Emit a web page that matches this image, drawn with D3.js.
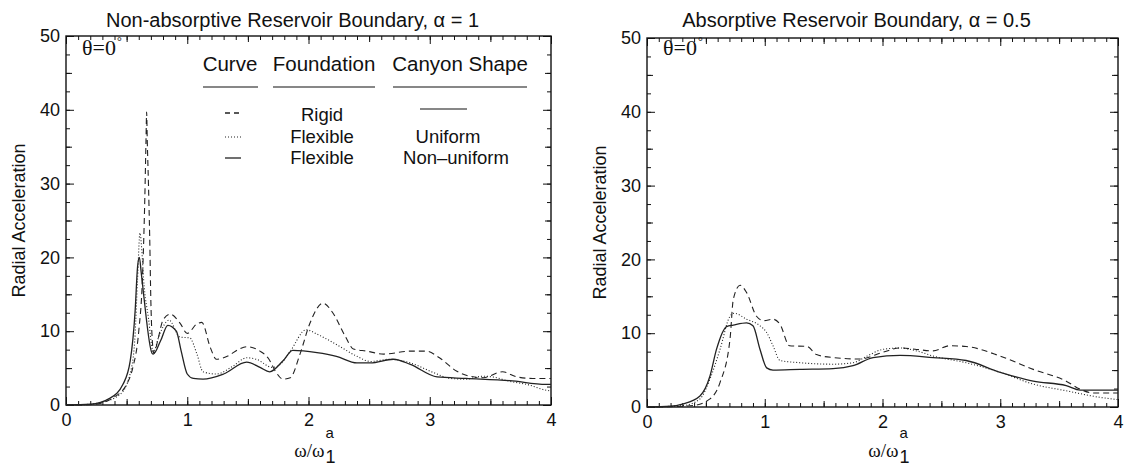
<!DOCTYPE html>
<html>
<head>
<meta charset="utf-8">
<script src="https://cdn.jsdelivr.net/npm/d3@7"></script>
<style>
  body { margin: 0; background: #fff; }
  text { font-family: "Liberation Sans", Arial, sans-serif; fill: #111; }
  .serif { font-family: "Liberation Serif", "Times New Roman", serif; }
</style>
</head>
<body>
<div id="chart"></div>
<script>
// axis ticks
const xTicks = [0, 1, 2, 3, 4];
const yTicks = [0, 10, 20, 30, 40, 50];

// Non-absorptive reservoir, alpha = 1   ([omega ratio, radial acceleration])
const nonAbsRigid = [[0,0],[0.2,0.05],[0.3,0.3],[0.39,1],[0.5,2.8],[0.55,5],[0.6,10],[0.63,17],[0.65,28],[0.66,36],[0.665,39.7],
  [0.67,36],[0.68,30],[0.69,23],[0.7,14],[0.715,8],[0.725,7],[0.76,9],[0.8,11.5],[0.86,12.3],[0.94,11.1],[1.0,9.7],[1.08,11],
  [1.12,11.2],[1.19,7.8],[1.24,6.2],[1.33,6.6],[1.43,7.6],[1.49,7.9],[1.6,7.3],[1.67,6.3],[1.73,4.5],[1.79,3.5],[1.85,3.7],
  [1.93,6.9],[2.01,11],[2.12,13.8],[2.2,12.5],[2.3,9.4],[2.37,7.6],[2.48,7.3],[2.62,6.9],[2.84,7.3],[2.97,7.3],[3.08,6.4],
  [3.22,4.6],[3.33,3.9],[3.44,3.7],[3.6,4.5],[3.72,3.8],[3.85,3.6],[4,3.6]];
const nonAbsFlexUniform = [[0,0],[0.2,0.1],[0.3,0.4],[0.45,1.5],[0.54,5],[0.57,9.6],[0.59,17],[0.61,23.3],[0.625,21],[0.64,17],
  [0.68,11.8],[0.72,7.2],[0.77,9.5],[0.85,11.5],[0.94,9.2],[1.02,9.1],[1.08,6.9],[1.13,4.5],[1.24,4.2],[1.38,5.3],[1.49,6.4],
  [1.57,6.2],[1.7,5.1],[1.75,5.3],[1.85,7.3],[1.98,10.2],[2.07,9.6],[2.23,8.2],[2.4,6.6],[2.51,5.9],[2.67,6.2],[2.84,5.7],
  [3.03,4.4],[3.17,3.6],[3.3,3.5],[3.44,3.9],[3.52,3.8],[3.66,3.2],[3.8,2.8],[3.96,2.0],[4,1.9]];
const nonAbsFlexNonUniform = [[0,0],[0.2,0.1],[0.36,0.9],[0.47,2.8],[0.53,6],[0.57,12.7],[0.59,18.7],[0.605,20],[0.62,18],
  [0.64,15],[0.71,7],[0.72,6.9],[0.78,8.7],[0.84,10.8],[0.91,10],[0.95,7.3],[1.0,4.2],[1.05,3.6],[1.13,3.5],[1.3,4.2],
  [1.49,5.8],[1.6,5.1],[1.68,4.5],[1.79,6.0],[1.87,7.4],[2.07,7.1],[2.23,6.6],[2.4,5.7],[2.51,5.7],[2.7,6.2],[2.84,5.5],
  [3.06,3.8],[3.3,3.6],[3.66,3.3],[3.96,2.8],[4,2.8]];

// Absorptive reservoir, alpha = 0.5
const absRigid = [[0,0],[0.2,0.05],[0.39,0.2],[0.535,1.1],[0.62,3.3],[0.705,9.2],[0.733,14.6],[0.79,16.5],[0.846,15.5],
  [0.93,12.3],[0.99,11.7],[1.07,11.9],[1.13,11.2],[1.21,8.3],[1.36,8.2],[1.44,7.1],[1.58,6.7],[1.81,6.5],[2.0,7.4],[2.15,8.0],
  [2.29,7.8],[2.43,7.6],[2.57,8.3],[2.71,8.2],[3.0,6.9],[3.28,5.1],[3.56,3.5],[3.68,2.4],[3.79,1.9],[4,1.9]];
const absFlexUniform = [[0,0],[0.31,0.2],[0.45,1.1],[0.535,3.8],[0.62,7.8],[0.705,12.3],[0.74,12.7],[0.846,11.9],[0.96,11.0],
  [1.016,10.1],[1.07,8.3],[1.13,6.3],[1.3,6.0],[1.58,5.8],[1.75,6.0],[1.87,6.9],[2.0,7.8],[2.15,8.0],[2.29,7.6],[2.43,6.9],
  [2.71,6.0],[3.0,4.7],[3.28,3.1],[3.56,2.2],[3.85,1.3],[4,1.0]];
const absFlexNonUniform = [[0,0],[0.2,0.1],[0.3,0.4],[0.45,1.5],[0.535,4.2],[0.59,7.8],[0.676,10.9],[0.733,11.1],[0.846,11.4],
  [0.9,11.0],[0.96,7.8],[1.016,5.3],[1.07,5.0],[1.3,5.1],[1.58,5.2],[1.75,5.6],[1.92,6.7],[2.15,7.0],[2.43,6.7],[2.71,6.3],
  [3.0,4.7],[3.28,3.5],[3.56,2.9],[3.68,2.3],[4,2.3]];

const dashStyle = { rigid: "6,4", uniform: "1,2", nonuniform: null };

const width = 1136, height = 467;
const svg = d3.select("#chart").append("svg")
    .attr("width", width)
    .attr("height", height);

const panels = [
  { title: "Non-absorptive Reservoir Boundary, \u03b1 = 1", left: 66, right: 551, top: 36, bottom: 405,
    series: [[nonAbsRigid, "rigid"], [nonAbsFlexUniform, "uniform"], [nonAbsFlexNonUniform, "nonuniform"]] },
  { title: "Absorptive Reservoir Boundary, \u03b1 = 0.5", left: 647, right: 1118, top: 38, bottom: 407,
    series: [[absRigid, "rigid"], [absFlexUniform, "uniform"], [absFlexNonUniform, "nonuniform"]] }
];

panels.forEach(function(p, i) {
  const x = d3.scaleLinear().domain([0, 4]).range([p.left, p.right]);
  const y = d3.scaleLinear().domain([0, 50]).range([p.bottom, p.top]);
  const cx = (p.left + p.right) / 2;

  // minor ticks (0.1 / 2.5), medium ticks (0.5 / 5)
  const xMinor = d3.range(0, 4.001, 0.1).map(v => +v.toFixed(1));
  const xMid = d3.range(0.5, 4, 1);
  const yMinor = d3.range(0, 50.001, 2.5);
  const yMid = d3.range(5, 50, 10);

  function tickLayer(axisFn, scale, vals, len, pos) {
    const g = svg.append("g").attr("transform", pos)
      .call(axisFn(scale).tickValues(vals).tickSizeInner(-len).tickSizeOuter(0).tickFormat(""));
    g.select(".domain").remove();
    g.selectAll("line").attr("stroke", "#111").attr("stroke-width", 1);
  }
  [[d3.axisBottom, x, xMinor, 4, `translate(0,${p.bottom})`],
   [d3.axisBottom, x, xMid, 6, `translate(0,${p.bottom})`],
   [d3.axisTop, x, xMinor, 4, `translate(0,${p.top})`],
   [d3.axisTop, x, xMid, 6, `translate(0,${p.top})`],
   [d3.axisTop, x, xTicks, 8, `translate(0,${p.top})`],
   [d3.axisLeft, y, yMinor, 4, `translate(${p.left},0)`],
   [d3.axisLeft, y, yMid, 6, `translate(${p.left},0)`],
   [d3.axisRight, y, yMinor, 4, `translate(${p.right},0)`],
   [d3.axisRight, y, yMid, 6, `translate(${p.right},0)`],
   [d3.axisRight, y, yTicks, 8, `translate(${p.right},0)`]
  ].forEach(a => tickLayer(a[0], a[1], a[2], a[3], a[4]));

  // labelled axes
  const xa = svg.append("g").attr("transform", `translate(0,${p.bottom})`)
    .call(d3.axisBottom(x).tickValues(xTicks).tickSizeInner(-8).tickSizeOuter(0).tickPadding(8).tickFormat(d3.format("d")));
  const ya = svg.append("g").attr("transform", `translate(${p.left},0)`)
    .call(d3.axisLeft(y).tickValues(yTicks).tickSizeInner(-8).tickSizeOuter(0).tickPadding(6).tickFormat(d3.format("d")));
  [xa, ya].forEach(g => {
    g.select(".domain").remove();
    g.selectAll("line").attr("stroke", "#111");
    g.selectAll("text").style("font-size", "18px").style("font-family", "'Liberation Sans', Arial, sans-serif").attr("fill", "#111");
  });

  // frame
  svg.append("rect")
    .attr("x", p.left).attr("y", p.top)
    .attr("width", p.right - p.left).attr("height", p.bottom - p.top)
    .attr("fill", "none").attr("stroke", "#111").attr("stroke-width", 1.4);

  // curves
  const line = d3.line()
    .x(d => x(d[0]))
    .y(d => y(d[1]))
    .curve(d3.curveMonotoneX);
  p.series.forEach(function(s) {
    svg.append("path")
      .datum(s[0])
      .attr("d", line)
      .attr("fill", "none")
      .attr("stroke", "#222")
      .attr("stroke-width", s[1] === "nonuniform" ? 1.3 : 1.1)
      .attr("stroke-dasharray", dashStyle[s[1]]);
  });

  // title
  svg.append("text")
    .attr("x", cx + (i === 0 ? -16 : -26)).attr("y", 27)
    .attr("text-anchor", "middle")
    .style("font-size", "20px")
    .text(p.title);

  // y axis title
  svg.append("text")
    .attr("transform", `translate(${p.left - 41},${(p.top + p.bottom) / 2}) rotate(-90)`)
    .attr("text-anchor", "middle")
    .style("font-size", "18px")
    .text("Radial Acceleration");

  // x axis title  w/w_1^a
  svg.append("text").attr("class", "serif")
    .attr("x", cx + 16).attr("y", 457)
    .attr("text-anchor", "end")
    .style("font-size", "19px")
    .text("\u03c9/\u03c9");
  svg.append("text").attr("x", cx + 17).attr("y", 463).style("font-size", "18px").text("1");
  svg.append("text").attr("x", cx + 17).attr("y", 438).style("font-size", "15px").text("a");

  // theta label
  const th = svg.append("text").attr("class", "serif")
    .attr("x", p.left + 16).attr("y", 55)
    .style("font-size", "22px");
  th.append("tspan").text("\u03b8=0");
  th.append("tspan").attr("dx", 1).attr("dy", -10).style("font-size", "12px").text("\u00b0");
});

// legend (left panel)
const lg = svg.append("g");
const headers = [["Curve", 230, 203, 258], ["Foundation", 324, 273, 375], ["Canyon Shape", 460, 393, 527]];
headers.forEach(h => {
  lg.append("text").attr("x", h[1]).attr("y", 71).attr("text-anchor", "middle").style("font-size", "20.5px").text(h[0]);
  lg.append("line").attr("x1", h[2]).attr("x2", h[3]).attr("y1", 87).attr("y2", 87).attr("stroke", "#111").attr("stroke-width", 1.2);
});
const legendRows = [["rigid", "Rigid", null, 113, 121], ["uniform", "Flexible", "Uniform", 137, 143], ["nonuniform", "Flexible", "Non\u2013uniform", 158, 164]];
legendRows.forEach(r => {
  lg.append("line").attr("x1", 225).attr("x2", 241).attr("y1", r[3]).attr("y2", r[3])
    .attr("stroke", "#222").attr("stroke-width", r[0] === "uniform" ? 1.1 : 1.3)
    .attr("stroke-dasharray", r[0] === "rigid" ? "5,4" : dashStyle[r[0]]);
  lg.append("text").attr("x", 322).attr("y", r[4]).attr("text-anchor", "middle").style("font-size", "18.5px").text(r[1]);
  if (r[2]) lg.append("text").attr("x", r[0] === "uniform" ? 448 : 456).attr("y", r[4]).attr("text-anchor", "middle").style("font-size", "18.5px").text(r[2]);
});
lg.append("line").attr("x1", 420).attr("x2", 467).attr("y1", 109).attr("y2", 109).attr("stroke", "#111").attr("stroke-width", 1.2);
</script>
</body>
</html>
